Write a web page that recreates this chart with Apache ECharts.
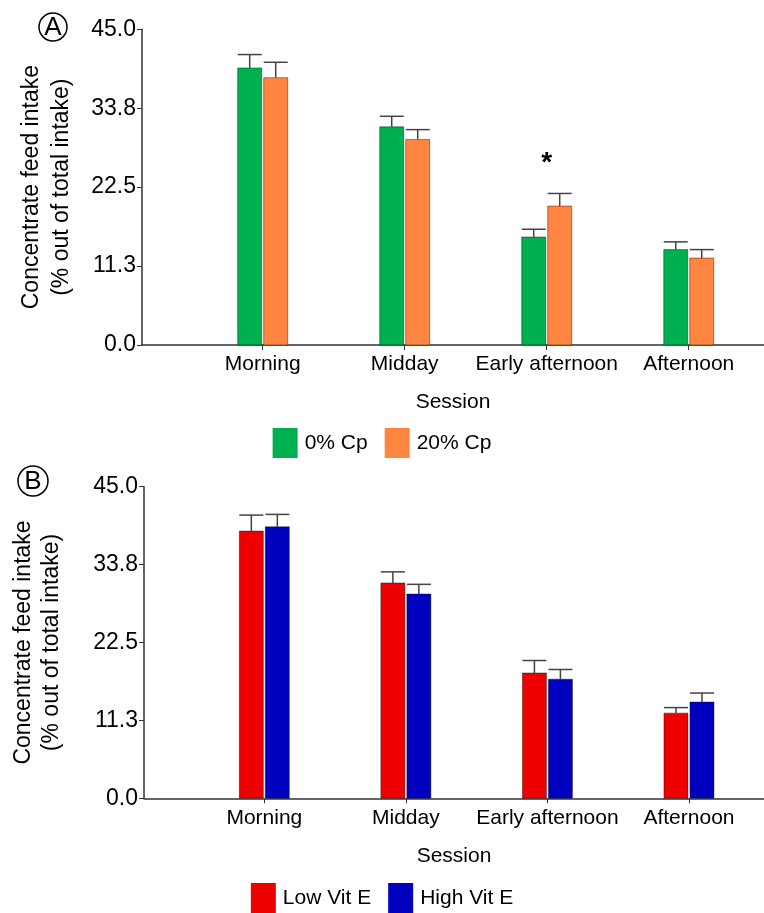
<!DOCTYPE html>
<html>
<head>
<meta charset="utf-8">
<script src="https://cdn.jsdelivr.net/npm/echarts@6/dist/echarts.min.js"></script>
<style>
html,body{margin:0;padding:0;background:#fff;}
#chart{width:764px;height:913px;}
</style>
</head>
<body>
<div id="chart"></div>
<script>
// ---- data ----
var categories = ['Morning', 'Midday', 'Early afternoon', 'Afternoon'];
var yTicks = [0, 11.25, 22.5, 33.75, 45];

// Panel A
var cp0 = [39.5, 31.1, 15.4, 13.6];
var cp0Err = [1.9, 1.5, 1.1, 1.1];
var cp20 = [38.1, 29.3, 19.8, 12.4];
var cp20Err = [2.2, 1.4, 1.8, 1.2];
var sigA = ['', '', '*', ''];

// Panel B
var lowE = [38.6, 31.1, 18.1, 12.3];
var lowEErr = [2.3, 1.6, 1.8, 0.8];
var highE = [39.2, 29.5, 17.2, 13.9];
var highEErr = [1.8, 1.4, 1.4, 1.3];

// ---- chart ----
var FONT = 'Liberation Sans, Arial, sans-serif';
var BAR_W = 24, BAR_GAP = 2;

function mk(vals, errs) {
  return vals.map(function (v, i) { return [i + 1, v, errs[i]]; });
}

function barRender(side) {
  return function (params, api) {
    var x = api.value(0), v = api.value(1), e = api.value(2);
    var top = api.coord([x, v]);
    var base = api.coord([x, 0]);
    var capP = api.coord([x, v + e]);
    var cx = top[0] + side * (BAR_W / 2 + BAR_GAP / 2);
    var color = api.visual('color');
    return {
      type: 'group',
      children: [
        {
          type: 'rect',
          shape: { x: cx - BAR_W / 2, y: top[1], width: BAR_W, height: base[1] - top[1] },
          style: { fill: color, stroke: 'rgba(0,0,0,0.4)', lineWidth: 1 }
        },
        {
          type: 'line',
          shape: { x1: cx, y1: top[1], x2: cx, y2: capP[1] },
          style: { stroke: '#444', lineWidth: 1.5 }
        },
        {
          type: 'line',
          shape: { x1: cx - BAR_W / 2, y1: capP[1], x2: cx + BAR_W / 2, y2: capP[1] },
          style: { stroke: '#444', lineWidth: 1.5 }
        }
      ]
    };
  };
}

function sigData(sig, a, ae, b, be) {
  var out = [];
  sig.forEach(function (s, i) {
    if (s) out.push([i + 1, Math.max(a[i] + ae[i], b[i] + be[i]), s]);
  });
  return out;
}
var sigItems = sigData(sigA, cp0, cp0Err, cp20, cp20Err);

function sigRender(params, api) {
  var p = api.coord([api.value(0), api.value(1)]);
  return {
    type: 'text',
    style: {
      text: sigItems[params.dataIndex][2],
      x: p[0], y: p[1] - 30,
      align: 'center', verticalAlign: 'middle',
      font: 'bold 28px ' + FONT, fill: '#000'
    }
  };
}

function xAxisCfg(gi, nameGap) {
  return {
    gridIndex: gi, type: 'value', min: 0.15, max: 4.53,
    axisLine: { show: true, onZero: false, lineStyle: { color: '#333', width: 1.5 } },
    axisTick: { show: true, length: 5, customValues: [1, 2, 3, 4], lineStyle: { color: '#333', width: 1 } },
    axisLabel: {
      customValues: [1, 2, 3, 4], margin: 9,
      fontSize: 21, fontFamily: FONT, color: '#000',
      formatter: function (v) { return categories[Math.round(v) - 1] || ''; }
    },
    splitLine: { show: false },
    name: 'Session', nameLocation: 'middle', nameGap: nameGap,
    nameTextStyle: { fontSize: 21, fontFamily: FONT, color: '#000' }
  };
}
function yAxisCfg(gi, gap, lh) {
  return {
    gridIndex: gi, type: 'value', min: yTicks[0], max: yTicks[yTicks.length - 1],
    interval: yTicks[1] - yTicks[0],
    axisLine: { show: true, lineStyle: { color: '#333', width: 1.5 } },
    axisTick: { show: true, length: 5, lineStyle: { color: '#333', width: 1 } },
    axisLabel: {
      margin: 6, fontSize: 23, fontFamily: FONT, color: '#000',
      formatter: function (v) { return v.toFixed(1); }
    },
    splitLine: { show: false },
    name: 'Concentrate feed intake\n(% out of total intake)',
    nameLocation: 'middle', nameGap: gap,
    nameTextStyle: { fontSize: 23, fontFamily: FONT, color: '#000', lineHeight: lh }
  };
}
function legendCfg(names, top) {
  return {
    data: names, top: top, left: 'center', padding: 0,
    itemWidth: 25, itemHeight: 30, itemGap: 17, icon: 'rect',
    textStyle: { fontSize: 21, fontFamily: FONT, color: '#000', padding: [0, 0, 0, 2] },
    selectedMode: false
  };
}
function circleLabel(letter, cx, cy, r) {
  return {
    type: 'group', x: cx, y: cy,
    children: [
      { type: 'circle', shape: { cx: 0, cy: 0, r: r }, style: { fill: 'none', stroke: '#000', lineWidth: 1.5 } },
      { type: 'text', style: { text: letter, x: 0, y: 1, align: 'center', verticalAlign: 'middle', font: '26px ' + FONT, fill: '#000' } }
    ]
  };
}

var chart = echarts.init(document.getElementById('chart'), null, { renderer: 'canvas' });
chart.setOption({
  animation: false,
  backgroundColor: '#fff',
  grid: [
    { left: 142, right: 0, top: 29.3, height: 315.7 },
    { left: 144, right: 0, top: 486.7, height: 311.6 }
  ],
  xAxis: [xAxisCfg(0, 47), xAxisCfg(1, 47)],
  yAxis: [yAxisCfg(0, 65, 30), yAxisCfg(1, 78, 28)],
  legend: [legendCfg(['0% Cp', '20% Cp'], 428), legendCfg(['Low Vit E', 'High Vit E'], 883)],
  graphic: [circleLabel('A', 53, 27, 14), circleLabel('B', 33, 481, 15)],
  series: [
    { name: '0% Cp', type: 'custom', xAxisIndex: 0, yAxisIndex: 0, itemStyle: { color: '#00B04F' }, renderItem: barRender(-1), data: mk(cp0, cp0Err) },
    { name: '20% Cp', type: 'custom', xAxisIndex: 0, yAxisIndex: 0, itemStyle: { color: '#FF8540' }, renderItem: barRender(1), data: mk(cp20, cp20Err) },
    { name: 'sig', type: 'custom', xAxisIndex: 0, yAxisIndex: 0, renderItem: sigRender, data: sigItems },
    { name: 'Low Vit E', type: 'custom', xAxisIndex: 1, yAxisIndex: 1, itemStyle: { color: '#EE0000' }, renderItem: barRender(-1), data: mk(lowE, lowEErr) },
    { name: 'High Vit E', type: 'custom', xAxisIndex: 1, yAxisIndex: 1, itemStyle: { color: '#0000BF' }, renderItem: barRender(1), data: mk(highE, highEErr) }
  ]
});
</script>
</body>
</html>
